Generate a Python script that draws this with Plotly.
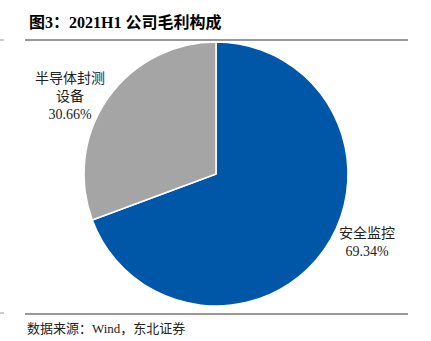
import plotly.graph_objects as go

labels = ["安全监控", "半导体封测设备"]
values = [69.34, 30.66]
colors = ["#0057a8", "#a5a5a5"]
W, H = 431, 341

fig = go.Figure()
fig.add_trace(go.Pie(
    labels=labels, values=values, sort=False, direction="clockwise", rotation=0,
    marker=dict(colors=colors, line=dict(color="white", width=1.5)),
    textinfo="none", hoverinfo="label+percent", showlegend=False,
    domain=dict(x=[84/W, 348/W], y=[(H-306)/H, (H-42)/H]),
))

serif = "Liberation Serif, Noto Sans CJK SC, serif"
ann = [
    dict(x=27/W, y=1-22/H, text="<b>图3：2021H1 公司毛利构成</b>", xanchor="left", yanchor="middle",
         font=dict(size=16, color="#000", family=serif)),
    dict(x=70/W, y=1-97/H, text="半导体封测<br>设备<br>30.66%", xanchor="center", yanchor="middle",
         font=dict(size=14, color="#222", family=serif)),
    dict(x=367/W, y=1-242/H, text="安全监控<br>69.34%", xanchor="center", yanchor="middle",
         font=dict(size=14, color="#222", family=serif)),
    dict(x=25/W, y=1-328/H, text="数据来源：Wind，东北证券", xanchor="left", yanchor="middle",
         font=dict(size=13, color="#222", family=serif)),
]
for a in ann:
    a.update(xref="paper", yref="paper", showarrow=False, align="center")

shapes = [
    dict(type="line", xref="paper", yref="paper", x0=25/W, x1=408/W, y0=1-40/H, y1=1-40/H,
         line=dict(color="#333", width=1)),
    dict(type="line", xref="paper", yref="paper", x0=25/W, x1=408/W, y0=1-314/H, y1=1-314/H,
         line=dict(color="#333", width=1)),
    dict(type="line", xref="paper", yref="paper", x0=0, x1=4/W, y0=1-40/H, y1=1-40/H,
         line=dict(color="#999", width=1)),
    dict(type="line", xref="paper", yref="paper", x0=0, x1=4/W, y0=1-313/H, y1=1-313/H,
         line=dict(color="#999", width=1)),
]

fig.update_layout(width=W, height=H, margin=dict(l=0, r=0, t=0, b=0),
                  paper_bgcolor="white", plot_bgcolor="white",
                  annotations=ann, shapes=shapes)
fig.write_html("out.html")
